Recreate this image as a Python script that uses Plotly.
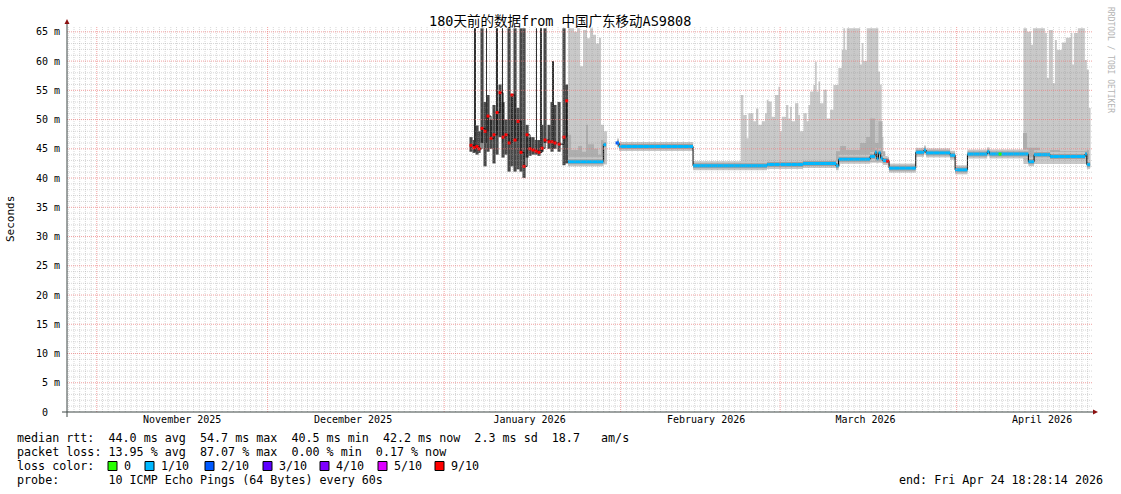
import pandas as pd
import plotly.graph_objects as go

START = pd.Timestamp("2025-10-26 18:28:14")
END = pd.Timestamp("2026-04-24 18:28:14")

# early period with heavy loss: dark smoke columns, days after START, values in ms
early_day = [70.95, 71.48, 72.01, 72.36, 72.88, 73.41, 73.94, 74.46, 74.99, 75.52, 76.05, 76.57, 77.10, 77.63, 78.15, 78.68,
             79.21, 79.73, 80.26, 80.79, 81.31, 81.84, 82.37, 82.89, 83.42, 83.95, 84.65, 85.18, 85.70, 86.41, 87.28, 87.75]
early_lo = [44.5, 44.3, 44.0, 44.3, 46.0, 42.0, 44.5, 45.0, 42.5, 44.0, 47.0, 43.5, 44.0, 41.1, 42.0, 41.1,
            41.5, 41.1, 40.0, 43.5, 43.8, 44.0, 44.0, 43.8, 44.5, 46.0, 45.0, 44.5, 45.0, 44.5, 42.2, 42.5]
early_hi = [47.0, 46.5, 49.0, 48.0, 65.6, 53.0, 54.2, 50.0, 52.5, 51.5, 56.0, 53.0, 50.0, 65.6, 54.4, 65.6,
            52.0, 65.6, 65.6, 49.1, 47.0, 47.0, 46.5, 46.5, 49.1, 65.6, 49.1, 53.0, 52.5, 53.0, 65.6, 56.0]
early_med = [45.6, 45.2, 45.4, 45.0, 48.5, 48.0, 50.6, 46.8, 47.4, 51.2, 54.6, 47.0, 47.4, 46.0, 54.2, 46.5,
             49.7, 44.4, 42.0, 47.4, 45.0, 44.8, 44.6, 44.4, 45.1, 46.5, 46.2, 46.2, 46.0, 45.8, 47.0, 53.2]
spike_day = [71.57, 73.67, 75.52, 76.48, 82.45, 83.16, 85.35]
spike_top = [65.6, 65.6, 65.6, 65.6, 65.6, 65.6, 60.0]
spike_bot = [44.5, 46.0, 48.0, 46.0, 44.5, 44.5, 45.0]

# median rtt steps after the outage period (None = no data)
med_day = [88.0, 94.19, 94.66, None, 96.59, 96.94, 109.94, 122.94, 129.26, 135.05, 135.5, 141.03, 141.9, 142.2, 142.5,
           142.9, 143.26, 144.13, 144.36, 149.05, 150.5, 150.86, 155.08, 155.96, 158.12, 161.6, 161.98, 168.83,
           169.83, 172.64, 178.79, 179.1, 179.66]
med_val = [42.8, 45.7, 45.7, None, 46.0, 45.4, 42.1, 42.3, 42.5, 42.1, 43.2, 43.7, 44.4, 43.3, 44.3,
           43.4, 43.0, 42.9, 41.7, 44.4, 44.8, 44.3, 43.9, 41.4, 44.1, 44.5, 44.1, 42.8,
           44.0, 43.7, 44.1, 42.3, 42.3]

# light smoke (spread of all pings), step outline
smoke_day = [88.0, 89.04, 89.57, 90.10, 90.62, 91.32, 91.85, 92.38, 92.90, 93.43, 93.78, 94.31, 94.84, None,
             118.31, 118.77, 119.36, 119.65, 120.53, 121.00, 121.41, 122.00, 122.58, 122.88, 123.17, 123.76,
             124.34, 124.93, 125.22, 125.52, 126.27, 126.68, 126.98, 127.27, 127.85, 128.44, 128.73, 129.32,
             129.91, 130.20, 130.49, 131.08, 131.37, 131.66, 131.96, 132.25, 132.83, 133.42, 134.00, 134.58,
             135.46, 136.05, 136.34, 136.64, 136.93, 139.27, 139.56, 139.86, 140.44, 142.48, 142.78, 143.07, 143.36, None,
             167.95, 168.6, 169.3, 169.63, 171.73, 172.08, 172.43, 173.13, 173.48, 173.83, 174.71, 175.41,
             176.29, 176.55, 176.82, 177.52, 178.75, 179.10, 179.45, 179.75]
smoke_top = [65.6, 65.0, 65.6, 59.1, 65.3, 63.9, 65.6, 64.5, 63.0, 64.0, 49.1, 48.0, 48.0, None,
             54.2, 50.8, 46.8, 51.1, 49.7, 51.9, 49.1, 49.7, 51.1, 53.4, 53.1, 50.5,
             54.2, 55.6, 48.0, 50.5, 52.5, 50.2, 52.2, 49.7, 52.8, 50.8, 48.0, 51.1,
             49.7, 52.5, 54.8, 55.9, 59.9, 54.8, 56.5, 52.8, 55.1, 50.2, 51.7, 55.9,
             58.8, 61.9, 65.6, 61.9, 65.6, 59.4, 63.1, 60.0, 65.6, 58.2, 56.0, 47.0, 47.0, None,
             65.6, 65.0, 62.8, 65.6, 64.8, 57.1, 65.3, 56.2, 63.6, 61.9, 63.2, 64.0,
             64.8, 59.4, 64.8, 65.6, 60.2, 58.5, 52.0, 52.0]
smoke_bot = [42.0, 42.0, 42.0, 42.0, 42.0, 42.0, 42.0, 42.0, 42.0, 42.0, 42.3, 42.3, 42.3, None,
             41.7, 41.7, 41.7, 41.7, 41.7, 41.7, 41.7, 41.7, 41.7, 41.7, 41.7, 41.7,
             41.7, 41.7, 41.7, 41.7, 41.7, 41.7, 41.7, 41.7, 41.7, 41.7, 41.7, 41.7,
             41.7, 41.7, 41.7, 41.7, 41.7, 41.7, 41.7, 41.7, 41.7, 41.7, 41.7, 41.7,
             42.6, 42.6, 42.6, 42.6, 42.6, 42.6, 42.6, 42.6, 42.6, 42.6, 42.6, 42.6, 42.6, None,
             42.4, 42.4, 42.4, 42.4, 42.4, 42.4, 42.4, 42.4, 42.4, 42.4, 42.4, 42.4,
             42.4, 42.4, 42.4, 42.4, 42.4, 41.8, 41.8, 41.8]

# darker smoke near the median
mid_day = [88.0, 88.52, 89.75, 90.45, 91.15, 91.50, 92.55, 93.25, 93.78, 94.49, None,
           135.05, 135.76, 136.81, 139.27, 140.33, 141.03, 141.9, 142.5, 143.2, 143.7, None,
           167.89, 168.6, 170.86, 174.37, 178.75, 179.45]
mid_top = [47.4, 44.8, 45.5, 44.5, 49.1, 45.8, 45.0, 44.0, 46.5, 46.5, None,
           44.6, 45.5, 44.8, 46.0, 47.0, 50.2, 46.0, 49.7, 44.6, 44.6, None,
           47.7, 45.2, 44.8, 44.6, 44.8, 44.8]
mid_bot = [42.2, 42.2, 42.2, 42.2, 42.2, 42.2, 42.2, 42.2, 42.5, 42.5, None,
           42.0, 42.8, 42.8, 42.8, 42.8, 42.8, 42.8, 42.8, 42.8, 42.8, None,
           43.2, 43.2, 43.2, 43.2, 43.2, 43.2]

# median points with a loss class other than 1/10
loss_pt_day = [96.59, 144.13, 163.86]
loss_pt_val = [46.0, 42.9, 44.1]
loss_pt_cls = [2, 6, 0]

loss_labels = ["0", "1/10", "2/10", "3/10", "4/10", "5/10", "9/10"]
loss_colors = ["#26ff00", "#00b8ff", "#0059ff", "#5e00ff", "#7e00ff", "#dd00ff", "#ff0000"]

month_starts = ["2025-11-01", "2025-12-01", "2026-01-01", "2026-02-01", "2026-03-01", "2026-04-01"]
month_mids = ["2025-11-16", "2025-12-16", "2026-01-16", "2026-02-16", "2026-03-16", "2026-04-16"]
month_names = ["November 2025", "December 2025", "January 2026", "February 2026", "March 2026", "April 2026"]

stats_rows = [
    "median rtt:  44.0 ms avg  54.7 ms max  40.5 ms min  42.2 ms now  2.3 ms sd  18.7   am/s",
    "packet loss: 13.95 % avg  87.07 % max  0.00 % min  0.17 % now",
]
probe_row = "probe:       10 ICMP Echo Pings (64 Bytes) every 60s"
end_text = "end: Fri Apr 24 18:28:14 2026"
title = "180天前的数据from 中国广东移动AS9808"

MONO = "DejaVu Sans Mono, Noto Sans CJK SC, monospace"
W, H = 1121, 494
PL, PR, PT, PB = 67, 1092, 26, 412   # plot area in window pixels
PW, PH = PR - PL, PB - PT


def px(x):
    return (x - PL) / PW


def py(y):
    return (PB - y) / PH


def t(days):
    return [None if d is None else START + pd.Timedelta(days=d) for d in days]


def nb(s):
    return s.replace(" ", "\u00a0")


def step_polys(days, top, bot):
    xs, ys = [], []
    seg = []
    for d, a, b in zip(days + [None], top + [None], bot + [None]):
        if d is not None:
            seg.append((d, a, b))
            continue
        if len(seg) > 1:
            for i in range(len(seg) - 1):
                xs += [seg[i][0], seg[i + 1][0]]
                ys += [seg[i][1], seg[i][1]]
            for i in range(len(seg) - 2, -1, -1):
                xs += [seg[i + 1][0], seg[i][0]]
                ys += [seg[i][2], seg[i][2]]
            xs.append(None)
            ys.append(None)
        seg = []
    return t(xs), ys


def segments(days, vals):
    xs, ys = [], []
    for i in range(len(days) - 1):
        if days[i] is None or days[i + 1] is None:
            continue
        xs += [days[i], days[i + 1], None]
        ys += [vals[i], vals[i], None]
    return t(xs), ys


fig = go.Figure()

sx, sy = step_polys(smoke_day, smoke_top, smoke_bot)
fig.add_trace(go.Scatter(x=sx, y=sy, fill="toself", fillcolor="#c9c9c9", mode="lines",
                         line=dict(width=0, color="#c9c9c9"), hoverinfo="skip"))
mx, my = step_polys(mid_day, mid_top, mid_bot)
fig.add_trace(go.Scatter(x=mx, y=my, fill="toself", fillcolor="#afafaf", mode="lines",
                         line=dict(width=0, color="#afafaf"), hoverinfo="skip"))

DAY_MS = 86400000
fig.add_trace(go.Bar(x=t(early_day), y=[h - l for h, l in zip(early_hi, early_lo)], base=early_lo,
                     width=0.55 * DAY_MS, marker=dict(color="#474747", line=dict(width=0)), hoverinfo="skip"))
fig.add_trace(go.Bar(x=t(spike_day), y=[h - l for h, l in zip(spike_top, spike_bot)], base=spike_bot,
                     width=0.16 * DAY_MS, marker=dict(color="#303030", line=dict(width=0)), hoverinfo="skip"))

gx, gy = segments(med_day, med_val)
fig.add_trace(go.Scatter(x=gx, y=gy, mode="lines", line=dict(color="#c6c6c6", width=9), hoverinfo="skip"))
fig.add_trace(go.Scatter(x=gx, y=gy, mode="lines", line=dict(color="#a0a0a0", width=5), hoverinfo="skip"))
fig.add_trace(go.Scatter(x=t(med_day), y=med_val, mode="lines", line=dict(color="#000000", width=1, shape="hv"),
                         connectgaps=False, hoverinfo="skip"))
fig.add_trace(go.Scatter(x=gx, y=gy, mode="lines", line=dict(color=loss_colors[1], width=3), hoverinfo="skip"))

fig.add_trace(go.Scatter(x=t(early_day), y=early_med, mode="lines", line=dict(color="#111111", width=1, shape="hv"),
                         hoverinfo="skip"))
fig.add_trace(go.Scatter(x=t(early_day), y=early_med, mode="markers",
                         marker=dict(symbol="square", size=3, color=loss_colors[6]), hoverinfo="skip"))
fig.add_trace(go.Scatter(x=t(loss_pt_day), y=loss_pt_val, mode="markers",
                         marker=dict(symbol="square", size=3, color=[loss_colors[c] for c in loss_pt_cls]),
                         hoverinfo="skip"))

# grid drawn above the data, as rrdtool does
shapes = []
GRID = "rgba(150,150,150,0.38)"
MGRID = "rgba(235,120,120,0.7)"
day = START.normalize() + pd.Timedelta(days=1)
while day < END:
    if day.day != 1:
        shapes.append(dict(type="line", xref="x", yref="paper", x0=day, x1=day, y0=0, y1=1, layer="above",
                           line=dict(color=GRID, width=1, dash="1px,1px")))
    day += pd.Timedelta(days=1)
for v in range(1, 66):
    if v % 5:
        shapes.append(dict(type="line", xref="paper", yref="y", x0=0, x1=1, y0=v, y1=v, layer="above",
                           line=dict(color=GRID, width=1, dash="1px,1px")))
for m in month_starts:
    shapes.append(dict(type="line", xref="x", yref="paper", x0=m, x1=m, y0=0, y1=1, layer="above",
                       line=dict(color=MGRID, width=1, dash="1px,1px")))
for v in range(5, 66, 5):
    shapes.append(dict(type="line", xref="paper", yref="y", x0=0, x1=1, y0=v, y1=v, layer="above",
                       line=dict(color=MGRID, width=1, dash="1px,1px")))

# axes with arrows
AXIS = "#3c4644"
ARROW = "#8b1010"
shapes.append(dict(type="line", xref="paper", yref="paper", x0=0, x1=0, y0=py(417), y1=py(22), layer="above",
                   line=dict(color=AXIS, width=1)))
shapes.append(dict(type="line", xref="paper", yref="paper", x0=px(62), x1=px(1094), y0=0, y1=0, layer="above",
                   line=dict(color=AXIS, width=1)))
shapes.append(dict(type="path", xref="paper", yref="paper", layer="above", fillcolor=ARROW, line=dict(width=0),
                   path=f"M {px(64.5)},{py(24)} L {px(69.5)},{py(24)} L {px(67)},{py(19)} Z"))
shapes.append(dict(type="path", xref="paper", yref="paper", layer="above", fillcolor=ARROW, line=dict(width=0),
                   path=f"M {px(1093)},{py(409.5)} L {px(1093)},{py(414.5)} L {px(1098)},{py(412)} Z"))

ann = []
ann.append(dict(text=title, x=px(560), y=py(21), xref="paper", yref="paper", showarrow=False,
                xanchor="center", yanchor="middle", font=dict(family=MONO, size=13.5, color="#000")))
ann.append(dict(text="Seconds", x=px(10), y=py(219), xref="paper", yref="paper", showarrow=False, textangle=-90,
                xanchor="center", yanchor="middle", font=dict(family=MONO, size=11, color="#000")))
ann.append(dict(text="RRDTOOL / TOBI OETIKER", x=px(1110), y=py(60), xref="paper", yref="paper", showarrow=False,
                textangle=90, xanchor="center", yanchor="middle", font=dict(family=MONO, size=8, color="#b4b4b4")))

LEG = dict(family=MONO, size=11.7, color="#000")
row_y = [438, 452, 466, 480]
for row, yy in zip(stats_rows, row_y):
    ann.append(dict(text=nb(row), x=px(16), y=py(yy), xref="paper", yref="paper", showarrow=False, borderpad=0,
                    xanchor="left", yanchor="middle", font=LEG))
ann.append(dict(text=nb("loss color:"), x=px(16), y=py(row_y[2]), xref="paper", yref="paper", showarrow=False,
                borderpad=0, xanchor="left", yanchor="middle", font=LEG))
box_px = [108, 145, 205, 263, 320, 378, 435]
for bx, lab, col in zip(box_px, loss_labels, loss_colors):
    shapes.append(dict(type="rect", xref="paper", yref="paper", layer="above",
                       x0=px(bx), x1=px(bx + 9), y0=py(row_y[2] - 4.5), y1=py(row_y[2] + 4.5),
                       fillcolor=col, line=dict(color="#000", width=1)))
    ann.append(dict(text=nb(lab), x=px(bx + 15), y=py(row_y[2]), xref="paper", yref="paper", showarrow=False,
                    borderpad=0, xanchor="left", yanchor="middle", font=LEG))
ann.append(dict(text=nb(probe_row), x=px(16), y=py(row_y[3]), xref="paper", yref="paper", showarrow=False,
                borderpad=0, xanchor="left", yanchor="middle", font=LEG))
ann.append(dict(text=nb(end_text), x=px(1104), y=py(row_y[3]), xref="paper", yref="paper", showarrow=False,
                borderpad=0, xanchor="right", yanchor="middle", font=LEG))

yticks = list(range(0, 66, 5))
ytext = ["0\u00a0\u00a0"] + [f"{v}\u00a0m" for v in yticks[1:]]

fig.update_layout(
    width=W, height=H,
    margin=dict(l=PL, r=W - PR, t=PT, b=H - PB, pad=0),
    paper_bgcolor="#ffffff", plot_bgcolor="#ffffff",
    showlegend=False, hovermode=False, barmode="overlay",
    shapes=shapes, annotations=ann,
    xaxis=dict(type="date", range=[START, END], showgrid=False, zeroline=False, showline=False,
               tickmode="array", tickvals=month_mids, ticktext=month_names, ticks="",
               tickfont=dict(family=MONO, size=10, color="#000")),
    yaxis=dict(range=[0, 66], showgrid=False, zeroline=False, showline=False,
               tickmode="array", tickvals=yticks, ticktext=ytext, ticks="outside", ticklen=4,
               tickcolor="rgba(0,0,0,0)", tickfont=dict(family=MONO, size=10, color="#000")),
)

# drop the default body margin so the figure sits at the window corner
fig.write_html("out.html", config={"displayModeBar": False},
               post_script="document.body.style.margin='0';")
